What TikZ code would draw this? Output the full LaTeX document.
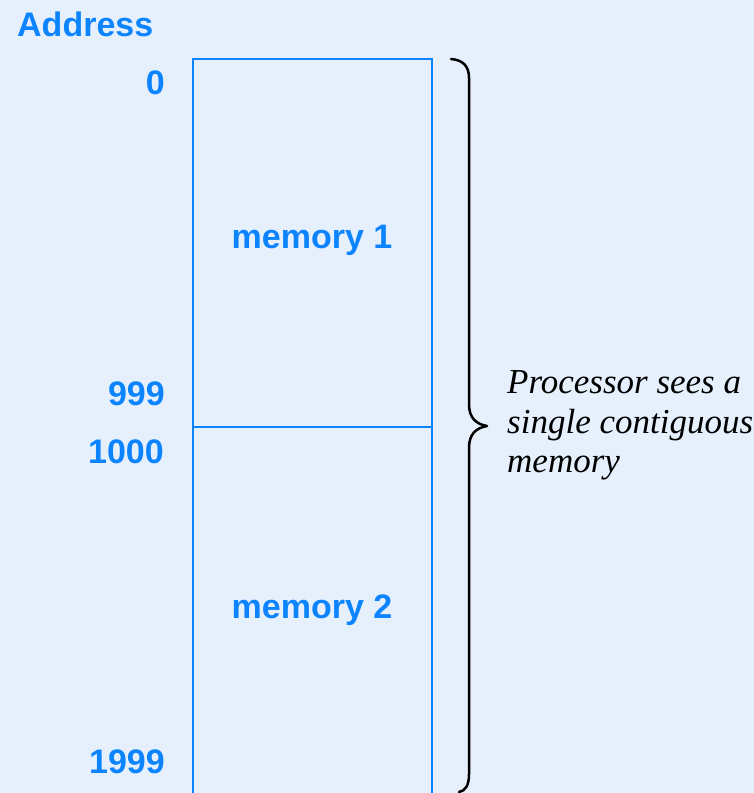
\documentclass[tikz,border=0pt]{standalone}
\usepackage{fontspec}
\setmainfont{Liberation Serif}
\setsansfont{Liberation Sans}
\definecolor{bgblue}{RGB}{230,240,252}
\definecolor{memblue}{RGB}{12,132,255}
\begin{document}
\begin{tikzpicture}[x=1pt,y=-1pt,
  lbl/.style={inner sep=0pt,text=memblue,font=\sffamily\bfseries\fontsize{34}{40}\selectfont},
  note/.style={inner sep=0pt,text=black,font=\rmfamily\itshape\fontsize{35}{40}\selectfont},
  cell/.style={draw=memblue,line width=2pt},
  bracestyle/.style={draw=black,line width=2.5pt,line cap=round,line join=round}]
\useasboundingbox[fill=bgblue] (0,0) rectangle (754,793);
% memory cells
\coordinate (m1nw) at (192.5,58.5);
\coordinate (m1se) at (431.5,426.5);
\coordinate (m2se) at (431.5,820);
\draw[cell] (m1nw) rectangle (m1se);
\draw[cell] (m1nw |- m1se) rectangle (m2se);
% labels
\node[lbl,anchor=base west] (addr) at (17,36) {Address};
\node[lbl,anchor=base east] (a0) at (165,94) {0};
\node[lbl,anchor=base east] (a999) at (165,405) {999};
\node[lbl,anchor=base east] (a1000) at (164,463) {1000};
\node[lbl,anchor=base east] (a1999) at (165,773) {1999};
\node[lbl,anchor=base] (mem1) at (312,248) {memory 1};
\node[lbl,anchor=base] (mem2) at (312,618) {memory 2};
% brace
\coordinate (btop) at (451,59);
\coordinate (btip) at (487,426);
\coordinate (bbot) at (459,792);
\draw[bracestyle] (btop) .. controls (463,60) and (469,66) .. (469,78)
  -- (469,404) .. controls (469,418) and (476,424) .. (btip)
  .. controls (476,428) and (469,434) .. (469,448)
  -- (469,774) .. controls (469,786) and (465,791) .. (bbot);
% note
\node[note,anchor=base west] (n1) at (507,393) {Processor sees a};
\node[note,anchor=base west] (n2) at (507,433) {single contiguous};
\node[note,anchor=base west] (n3) at (507,472) {memory};
\end{tikzpicture}
\end{document}
